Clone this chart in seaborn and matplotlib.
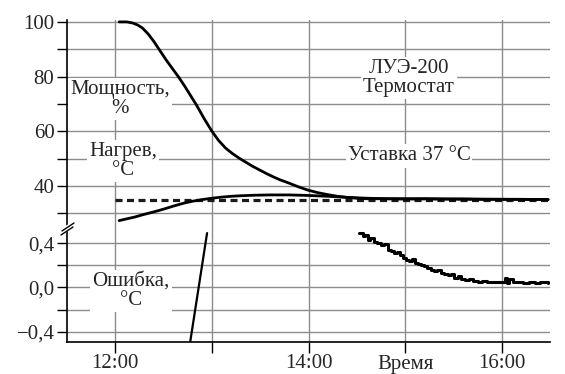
import matplotlib
matplotlib.use("Agg")
import matplotlib.pyplot as plt
from matplotlib.lines import Line2D
import seaborn as sns
import numpy as np
import pandas as pd

# power, %
power_t = [12.04, 12.12, 12.18, 12.23, 12.28, 12.34, 12.40, 12.46, 12.53, 12.60, 12.66,
           12.72, 12.78, 12.84, 12.92, 13.00, 13.07, 13.14, 13.21, 13.28, 13.35, 13.42,
           13.49, 13.56, 13.63, 13.70, 13.80, 13.90, 14.00, 14.10, 14.20, 14.30, 14.40,
           14.50, 14.60, 14.80, 15.00, 15.20, 15.40, 15.60, 15.80, 16.00, 16.20, 16.48]
power_v = [100.0, 100.0, 99.6, 98.9, 97.8, 95.6, 92.8, 89.6, 85.9, 82.5, 79.6,
           76.4, 73.0, 69.6, 64.6, 60.0, 56.6, 53.9, 51.9, 50.2, 48.7, 47.2,
           45.9, 44.6, 43.4, 42.3, 41.0, 39.6, 38.4, 37.5, 36.8, 36.2, 35.8,
           35.5, 35.3, 35.3, 35.2, 35.3, 35.2, 35.2, 35.1, 35.1, 35.1, 35.0]

# heating, °C
temp_t = [12.04, 12.10, 12.20, 12.30, 12.40, 12.50, 12.60, 12.71, 12.80, 12.90, 13.00,
          13.10, 13.20, 13.30, 13.45, 13.60, 13.80, 14.00, 14.20, 14.40, 14.60, 14.80,
          15.00, 15.50, 16.00, 16.48]
temp_v = [27.3, 27.8, 28.6, 29.6, 30.5, 31.5, 32.6, 33.7, 34.4, 35.0, 35.5,
          35.9, 36.2, 36.4, 36.6, 36.7, 36.7, 36.5, 36.2, 35.8, 35.5, 35.3,
          35.3, 35.2, 35.1, 35.0]

# setpoint
setpoint_t = [12.0, 16.48]
setpoint_v = [35.0, 35.0]

# error, °C
err_jump_t = [12.77, 12.95]
err_jump_v = [-0.52, 0.49]
err_t = [14.52, 14.56, 14.58, 14.62, 14.64, 14.68, 14.71, 14.75, 14.78, 14.82, 14.85,
         14.88, 14.92, 14.95, 14.98, 15.01, 15.04, 15.07, 15.10, 15.13, 15.16, 15.20,
         15.23, 15.27, 15.30, 15.33, 15.37, 15.40, 15.44, 15.47, 15.51, 15.55, 15.58,
         15.62, 15.66, 15.70, 15.75, 15.80, 15.85, 15.90, 15.95, 16.00, 16.03, 16.05,
         16.08, 16.12, 16.17, 16.22, 16.28, 16.34, 16.40, 16.48]
err_v = [0.49, 0.46, 0.47, 0.43, 0.45, 0.41, 0.40, 0.38, 0.39, 0.34, 0.33,
         0.31, 0.32, 0.29, 0.27, 0.25, 0.24, 0.26, 0.22, 0.21, 0.20, 0.19,
         0.18, 0.16, 0.15, 0.16, 0.13, 0.12, 0.11, 0.12, 0.09, 0.10, 0.08,
         0.07, 0.08, 0.06, 0.05, 0.06, 0.05, 0.05, 0.05, 0.05, 0.09, 0.04,
         0.08, 0.05, 0.05, 0.04, 0.05, 0.045, 0.05, 0.045]

x_ticks = [12, 13, 14, 15, 16]
x_labels = ["12:00", "", "14:00", "Время", "16:00"]
top_ticks = [30, 40, 50, 60, 70, 80, 90, 100]
top_labels = ["", "40", "", "60", "", "80", "", "100"]
bot_ticks = [-0.4, -0.2, 0.0, 0.2, 0.4]
bot_labels = ["\u22120,4", "", "0,0", "", "0,4"]

sns.set_theme(style="white")
plt.rcParams["font.family"] = ["Liberation Serif", "DejaVu Serif"]
plt.rcParams["font.size"] = 15

W, H = 565, 374
fig = plt.figure(figsize=(W / 100, H / 100), dpi=100)
left, right = 67 / W, 550 / W
ax_top = fig.add_axes([left, (H - 228) / H, right - left, 208 / H])
ax_bot = fig.add_axes([left, (H - 342) / H, right - left, 114 / H], sharex=ax_top)

grid_c = "#8c8c8c"
for ax in (ax_top, ax_bot):
    ax.set_facecolor("white")
    for s in ("top", "right"):
        ax.spines[s].set_visible(False)
    ax.spines["left"].set_color("black")
    ax.spines["left"].set_linewidth(1.2)
    ax.grid(True, color=grid_c, linewidth=1.0)
    ax.set_axisbelow(True)
    ax.tick_params(axis="y", which="major", direction="out", length=7, width=1.0,
                   color="black", left=True, labelsize=15, pad=2)
ax_top.spines["bottom"].set_visible(False)
ax_bot.spines["bottom"].set_color("black")
ax_bot.spines["bottom"].set_linewidth(1.2)

# top panel
sns.lineplot(x=setpoint_t, y=setpoint_v, ax=ax_top, color="#1a1a1a", linewidth=2.3,
             linestyle=(0, (2.2, 1.4)))
sns.lineplot(x=temp_t, y=temp_v, ax=ax_top, color="black", linewidth=2.0,
             solid_joinstyle="round", solid_capstyle="round")
sns.lineplot(x=power_t, y=power_v, ax=ax_top, color="black", linewidth=2.0,
             solid_joinstyle="round", solid_capstyle="round")
ax_top.set_ylim(24.6, 100.7)
ax_top.set_yticks(top_ticks)
ax_top.set_yticklabels(top_labels)
ax_top.tick_params(axis="x", bottom=False, labelbottom=False)

# bottom panel
sns.lineplot(x=err_jump_t, y=err_jump_v, ax=ax_bot, color="black", linewidth=1.6)
sns.lineplot(x=err_t, y=err_v, ax=ax_bot, color="black", linewidth=2.2,
             drawstyle="steps-post")
ax_bot.set_ylim(-0.491, 0.536)
ax_bot.set_yticks(bot_ticks)
ax_bot.set_yticklabels(bot_labels)
ax_bot.set_xlim(11.5, 16.5)
ax_bot.set_xticks(x_ticks)
ax_bot.set_xticklabels(x_labels)
ax_bot.tick_params(axis="x", direction="out", length=8, width=1.0, color="black",
                   bottom=True, labelsize=15, pad=1)
ax_top.set_xlabel("")
ax_bot.set_xlabel("")

# axis break marks
def px(x, y):
    return x / W, 1 - y / H

fig.add_artist(Line2D(*zip(px(60, 233), px(75, 223)), color="white", linewidth=4))
fig.add_artist(Line2D(*zip(px(61, 235), px(73, 227)), color="black", linewidth=1.0))
fig.add_artist(Line2D(*zip(px(62, 231), px(74, 223)), color="black", linewidth=1.0))

# labels
box = dict(facecolor="white", edgecolor="none", pad=1.5)
labels = [
    (120, 99, "Мощность,\n%"),
    (123, 161, "Нагрев,\n°C"),
    (409, 78, "ЛУЭ-200\nТермостат"),
    (409, 156, "Уставка 37 °C"),
    (131, 291, "Ошибка,\n°C"),
]
for x, y, s in labels:
    fig.text(*px(x, y), s, ha="center", va="center", fontsize=15,
             linespacing=1.0, bbox=box)

fig.savefig("out.png", dpi=100)
